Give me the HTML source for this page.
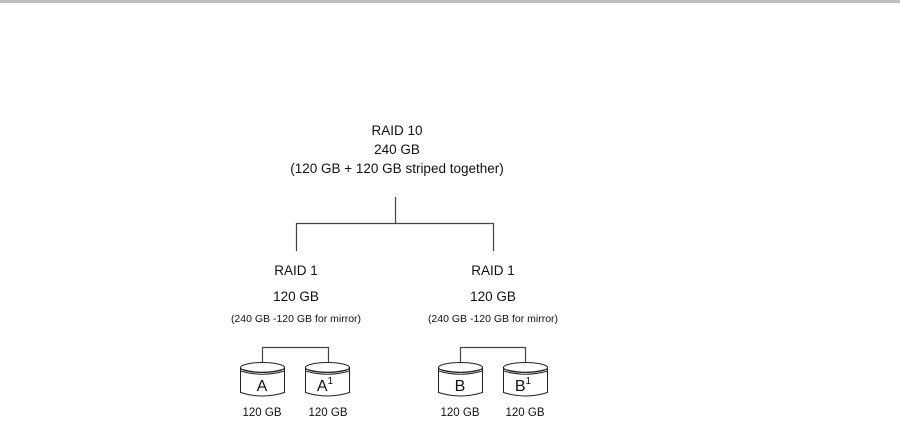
<!DOCTYPE html>
<html><head><style>
html,body{margin:0;padding:0;background:#fff;}
svg{display:block;}
text{font-family:"Liberation Sans",Arial,sans-serif;fill:#111;}
</style></head><body>
<svg width="900" height="423" viewBox="0 0 900 423" xmlns="http://www.w3.org/2000/svg">
<defs>
<g id="cyl" fill="none" stroke="#222" stroke-width="1">
  <path d="M0,5 L0,30 Q22,37 44,30 L44,5" fill="#fff"/>
  <ellipse cx="22" cy="5" rx="22" ry="5" fill="#fff"/>
  <path d="M0,6.5 Q22,13 44,6.5"/>
  <path d="M0,8.5 Q22,15 44,8.5"/>
</g>
</defs>
<rect x="0" y="0" width="900" height="3" fill="#bfbfbf"/>
<text x="397" y="135" font-size="13.5" text-anchor="middle">RAID 10</text>
<text x="397" y="154" font-size="13.5" text-anchor="middle">240 GB</text>
<text x="397" y="173" font-size="13.5" text-anchor="middle">(120 GB + 120 GB striped together)</text>
<g stroke="#444" stroke-width="1.2" fill="none">
<path d="M395.5,197 V223.5 M296.5,251 V223.5 H493.5 V251"/>
<path d="M262.5,362 V347.5 H328.5 V362"/>
<path d="M460.5,362 V347.5 H525.5 V362"/>
</g>
<text x="296" y="275" font-size="13.5" text-anchor="middle">RAID 1</text>
<text x="296" y="301" font-size="13.5" text-anchor="middle">120 GB</text>
<text x="296" y="322" font-size="10.5" text-anchor="middle">(240 GB -120 GB for mirror)</text>
<text x="493" y="275" font-size="13.5" text-anchor="middle">RAID 1</text>
<text x="493" y="301" font-size="13.5" text-anchor="middle">120 GB</text>
<text x="493" y="322" font-size="10.5" text-anchor="middle">(240 GB -120 GB for mirror)</text>
<use href="#cyl" x="240.5" y="362.5"/>
<use href="#cyl" x="305.5" y="362.5"/>
<use href="#cyl" x="438.5" y="362.5"/>
<use href="#cyl" x="503.5" y="362.5"/>
<text x="262" y="391" font-size="16" text-anchor="middle">A</text>
<text x="325" y="391" font-size="16" text-anchor="middle">A<tspan font-size="10" dy="-7">1</tspan></text>
<text x="460" y="391" font-size="16" text-anchor="middle">B</text>
<text x="523" y="391" font-size="16" text-anchor="middle">B<tspan font-size="10" dy="-7">1</tspan></text>
<text x="262" y="416" font-size="11.5" text-anchor="middle">120 GB</text>
<text x="328" y="416" font-size="11.5" text-anchor="middle">120 GB</text>
<text x="460" y="416" font-size="11.5" text-anchor="middle">120 GB</text>
<text x="525" y="416" font-size="11.5" text-anchor="middle">120 GB</text>
</svg>
</body></html>
